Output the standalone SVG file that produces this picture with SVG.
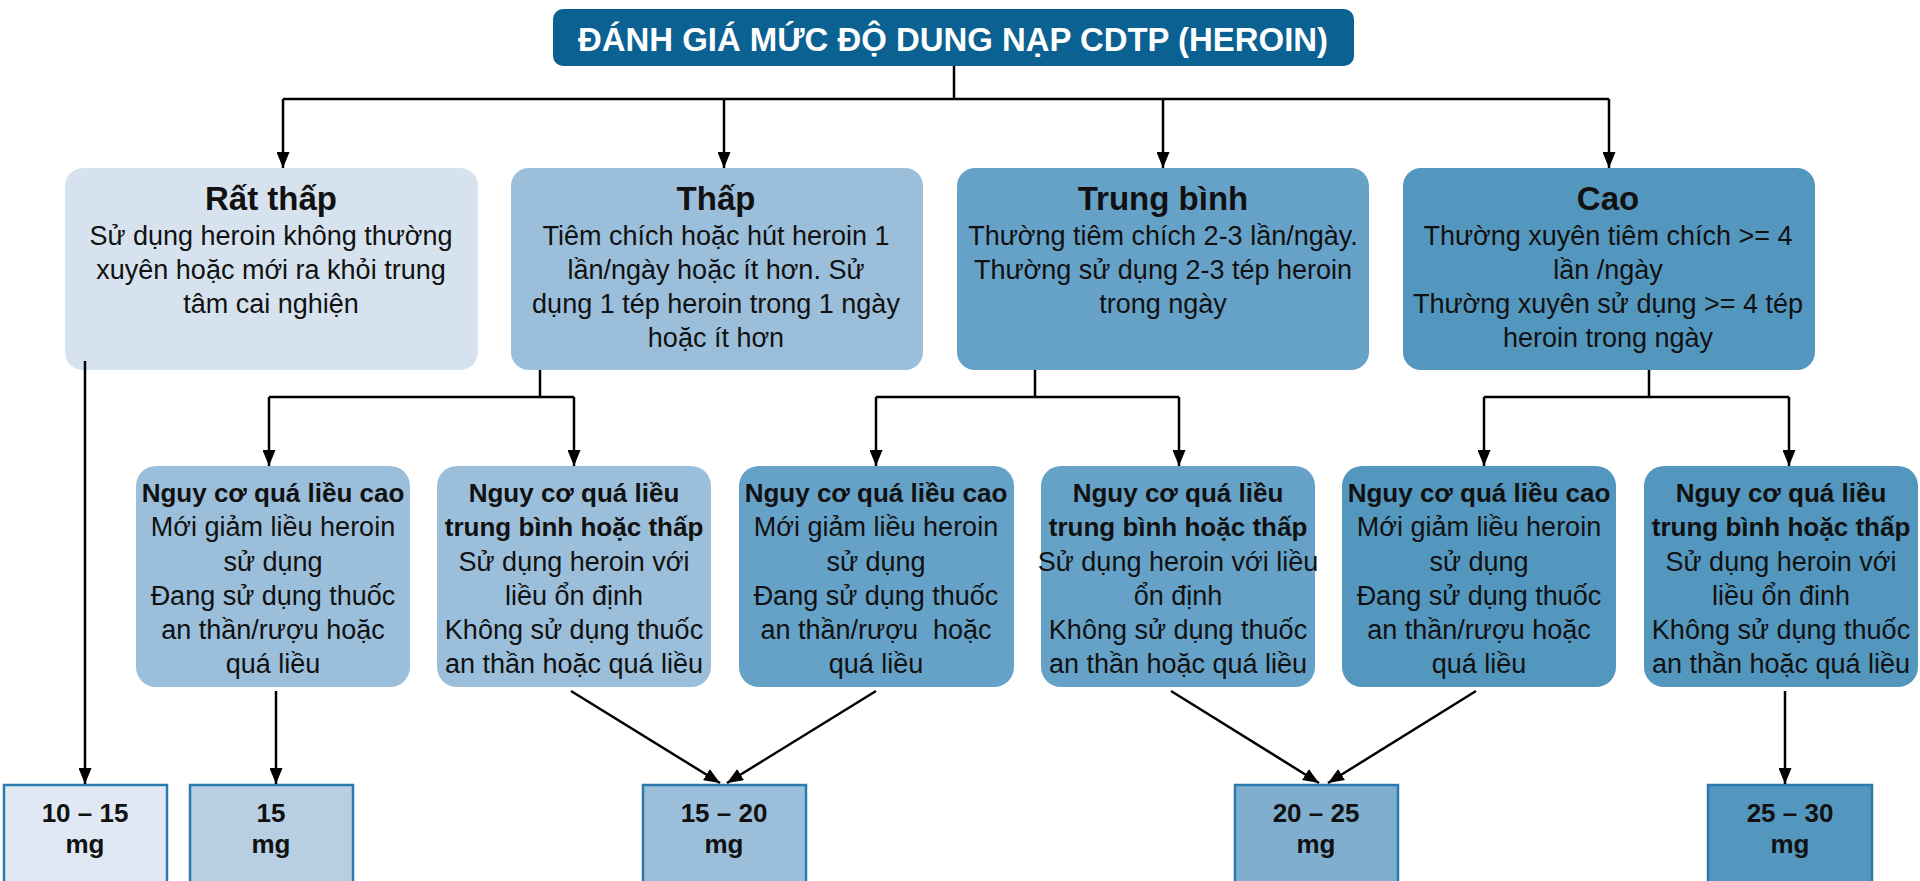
<svg xmlns="http://www.w3.org/2000/svg" width="1920" height="881" viewBox="0 0 1920 881">
<defs>
<marker id="arr" markerUnits="userSpaceOnUse" markerWidth="16" markerHeight="13" refX="16" refY="6.5" orient="auto">
<path d="M0,0 L16,6.5 L0,13 z" fill="#000"/>
</marker>
<style>
text{font-family:"Liberation Sans",Arial,sans-serif;fill:#111;text-anchor:middle;white-space:pre}
.title{font-size:34px;font-weight:bold;fill:#fff}
.h1{font-size:33px;font-weight:bold}
.b1{font-size:27px}
.h2{font-size:26px;font-weight:bold}
.b2{font-size:27px}
.mg{font-size:26px;font-weight:bold}
.conn path{fill:none;stroke:#000;stroke-width:2.5}
.conn .a{marker-end:url(#arr)}
.c0{fill:#d6e3ef}
.c1{fill:#9bbfda}
.c2{fill:#66a2c7}
.c3{fill:#5397bf}
.bx{stroke:#2a7aae;stroke-width:2.5}
</style>
</defs>
<rect width="1920" height="881" fill="#fff"/>

<g id="title">
<rect x="553" y="9" width="801" height="57" rx="10" fill="#0b6292"/>
<text class="title" x="953" y="51" textLength="750" lengthAdjust="spacingAndGlyphs">ĐÁNH GIÁ MỨC ĐỘ DUNG NẠP CDTP (HEROIN)</text>
</g>

<g id="rat-thap">
<rect class="c0" x="65" y="168" width="413" height="202" rx="18"/>
<text class="h1" x="271" y="210">Rất thấp</text>
<text class="b1" x="271" y="245">Sử dụng heroin không thường</text>
<text class="b1" x="271" y="279">xuyên hoặc mới ra khỏi trung</text>
<text class="b1" x="271" y="313">tâm cai nghiện</text>
</g>

<g id="thap">
<rect class="c1" x="511" y="168" width="412" height="202" rx="18"/>
<text class="h1" x="716" y="210">Thấp</text>
<text class="b1" x="716" y="245">Tiêm chích hoặc hút heroin 1</text>
<text class="b1" x="716" y="279">lần/ngày hoặc ít hơn. Sử</text>
<text class="b1" x="716" y="313">dụng 1 tép heroin trong 1 ngày</text>
<text class="b1" x="716" y="347">hoặc ít hơn</text>
</g>

<g id="trung-binh">
<rect class="c2" x="957" y="168" width="412" height="202" rx="18"/>
<text class="h1" x="1163" y="210">Trung bình</text>
<text class="b1" x="1163" y="245">Thường tiêm chích 2-3 lần/ngày.</text>
<text class="b1" x="1163" y="279">Thường sử dụng 2-3 tép heroin</text>
<text class="b1" x="1163" y="313">trong ngày</text>
</g>

<g id="cao">
<rect class="c3" x="1403" y="168" width="412" height="202" rx="18"/>
<text class="h1" x="1608" y="210">Cao</text>
<text class="b1" x="1608" y="245">Thường xuyên tiêm chích &gt;= 4</text>
<text class="b1" x="1608" y="279">lần /ngày</text>
<text class="b1" x="1608" y="313">Thường xuyên sử dụng &gt;= 4 tép</text>
<text class="b1" x="1608" y="347">heroin trong ngày</text>
</g>

<g id="r1">
<rect class="c1" x="136" y="466" width="274" height="221" rx="20"/>
<text class="h2" x="273" y="502">Nguy cơ quá liều cao</text>
<text class="b2" x="273" y="536">Mới giảm liều heroin</text>
<text class="b2" x="273" y="571">sử dụng</text>
<text class="b2" x="273" y="605">Đang sử dụng thuốc</text>
<text class="b2" x="273" y="639">an thần/rượu hoặc</text>
<text class="b2" x="273" y="673">quá liều</text>
</g>

<g id="r2">
<rect class="c1" x="437" y="466" width="274" height="221" rx="20"/>
<text class="h2" x="574" y="502">Nguy cơ quá liều</text>
<text class="h2" x="574" y="536">trung bình hoặc thấp</text>
<text class="b2" x="574" y="571">Sử dụng heroin với</text>
<text class="b2" x="574" y="605">liều ổn định</text>
<text class="b2" x="574" y="639">Không sử dụng thuốc</text>
<text class="b2" x="574" y="673">an thần hoặc quá liều</text>
</g>

<g id="r3">
<rect class="c2" x="739" y="466" width="275" height="221" rx="20"/>
<text class="h2" x="876" y="502">Nguy cơ quá liều cao</text>
<text class="b2" x="876" y="536">Mới giảm liều heroin</text>
<text class="b2" x="876" y="571">sử dụng</text>
<text class="b2" x="876" y="605">Đang sử dụng thuốc</text>
<text class="b2" x="876" y="639">an thần/rượu  hoặc</text>
<text class="b2" x="876" y="673">quá liều</text>
</g>

<g id="r4">
<rect class="c2" x="1041" y="466" width="274" height="221" rx="20"/>
<text class="h2" x="1178" y="502">Nguy cơ quá liều</text>
<text class="h2" x="1178" y="536">trung bình hoặc thấp</text>
<text class="b2" x="1178" y="571">Sử dụng heroin với liều</text>
<text class="b2" x="1178" y="605">ổn định</text>
<text class="b2" x="1178" y="639">Không sử dụng thuốc</text>
<text class="b2" x="1178" y="673">an thần hoặc quá liều</text>
</g>

<g id="r5">
<rect class="c3" x="1342" y="466" width="274" height="221" rx="20"/>
<text class="h2" x="1479" y="502">Nguy cơ quá liều cao</text>
<text class="b2" x="1479" y="536">Mới giảm liều heroin</text>
<text class="b2" x="1479" y="571">sử dụng</text>
<text class="b2" x="1479" y="605">Đang sử dụng thuốc</text>
<text class="b2" x="1479" y="639">an thần/rượu hoặc</text>
<text class="b2" x="1479" y="673">quá liều</text>
</g>

<g id="r6">
<rect class="c3" x="1644" y="466" width="274" height="221" rx="20"/>
<text class="h2" x="1781" y="502">Nguy cơ quá liều</text>
<text class="h2" x="1781" y="536">trung bình hoặc thấp</text>
<text class="b2" x="1781" y="571">Sử dụng heroin với</text>
<text class="b2" x="1781" y="605">liều ổn đinh</text>
<text class="b2" x="1781" y="639">Không sử dụng thuốc</text>
<text class="b2" x="1781" y="673">an thần hoặc quá liều</text>
</g>

<g id="d1">
<rect class="bx" x="4" y="785" width="163" height="110" fill="#e0e9f3"/>
<text class="mg" x="85" y="822">10 – 15</text>
<text class="mg" x="85" y="853">mg</text>
</g>
<g id="d2">
<rect class="bx" x="190" y="785" width="163" height="110" fill="#b8cfe3"/>
<text class="mg" x="271" y="822">15</text>
<text class="mg" x="271" y="853">mg</text>
</g>
<g id="d3">
<rect class="bx" x="643" y="785" width="163" height="110" fill="#9bbfda"/>
<text class="mg" x="724" y="822">15 – 20</text>
<text class="mg" x="724" y="853">mg</text>
</g>
<g id="d4">
<rect class="bx" x="1235" y="785" width="163" height="110" fill="#7faecf"/>
<text class="mg" x="1316" y="822">20 – 25</text>
<text class="mg" x="1316" y="853">mg</text>
</g>
<g id="d5">
<rect class="bx" x="1708" y="785" width="164" height="110" fill="#5397bf"/>
<text class="mg" x="1790" y="822">25 – 30</text>
<text class="mg" x="1790" y="853">mg</text>
</g>

<g id="connectors" class="conn">
<path d="M954,66 V99"/>
<path d="M283,99 H1609"/>
<path class="a" d="M283,99 V168"/>
<path class="a" d="M724,99 V168"/>
<path class="a" d="M1163,99 V168"/>
<path class="a" d="M1609,99 V168"/>
<path d="M540,370 V397"/>
<path d="M269,397 H574"/>
<path class="a" d="M269,397 V466"/>
<path class="a" d="M574,397 V466"/>
<path d="M1035,370 V397"/>
<path d="M876,397 H1179"/>
<path class="a" d="M876,397 V466"/>
<path class="a" d="M1179,397 V466"/>
<path d="M1649,370 V397"/>
<path d="M1484,397 H1789"/>
<path class="a" d="M1484,397 V466"/>
<path class="a" d="M1789,397 V466"/>
<path class="a" d="M85,361 V784"/>
<path class="a" d="M276,691 V784"/>
<path class="a" d="M571,691 L720,783"/>
<path class="a" d="M876,691 L727,783"/>
<path class="a" d="M1171,691 L1319,783"/>
<path class="a" d="M1476,691 L1328,783"/>
<path class="a" d="M1785,691 V784"/>
</g>
</svg>
